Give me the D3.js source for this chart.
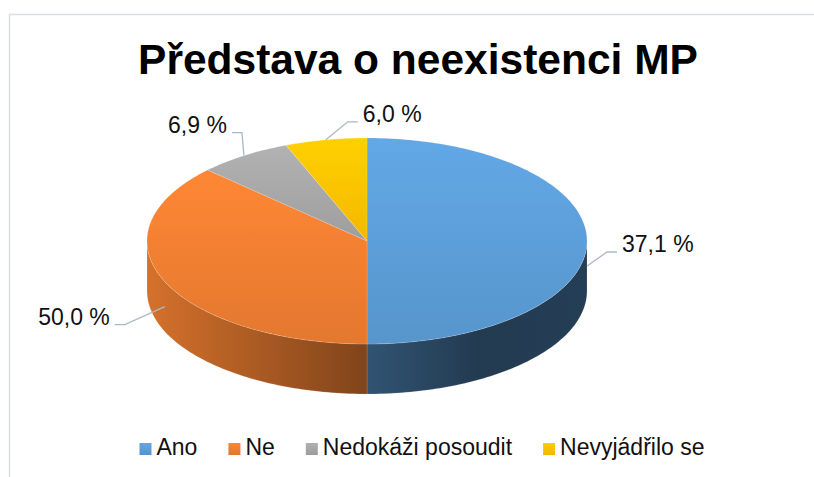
<!DOCTYPE html>
<html>
<head>
<meta charset="utf-8">
<script src="https://cdn.jsdelivr.net/npm/d3@7"></script>
<style>
  body { margin: 0; background: #fff; }
  svg { display: block; font-family: "Liberation Sans", Arial, sans-serif; }
</style>
</head>
<body>
<svg id="chart" width="814" height="477"></svg>
<script>
// data (slice sizes and the label texts printed on them)
const categories = ['Ano', 'Ne', 'Nedokáži posoudit', 'Nevyjádřilo se']
const sliceValues = [50.0, 37.1, 6.9, 6.0]
const labelTexts = ['37,1 %', '50,0 %', '6,9 %', '6,0 %']
const colors = ['#5b9bd5', '#ed7d31', '#a5a5a5', '#ffc000']

const svg = d3.select('#chart')
const defs = svg.append('defs')

// pie geometry (tilted ellipse + wall depth)
const cx = 367, cy = 241, rx = 220, ry = 103, depth = 50

// leader elbow offsets from the slice anchor, per slice
const leaderOffsets = [[20, -14], [-40, 18], [-2, -23], [22, -18]]

// frame
svg.append('path')
  .attr('d', 'M9.5,477V14.5H814')
  .attr('fill', 'none')
  .attr('stroke', '#dadee4')
  .attr('stroke-width', 1.5)

svg.append('text')
  .attr('x', 418)
  .attr('y', 74)
  .attr('text-anchor', 'middle')
  .style('font-size', '42.5px')
  .style('font-weight', 'bold')
  .style('fill', '#000')
  .text('Představa o neexistenci MP')

const pie = d3.pie().sort(null).value(d => d)
const arcs = pie(sliceValues)

function pt(a, dy) {
  return [cx + rx * Math.sin(a), cy - ry * Math.cos(a) + (dy || 0)]
}

function arcPoints(a0, a1, dy) {
  const n = Math.max(2, Math.ceil(Math.abs(a1 - a0) / 0.02))
  return d3.range(n + 1).map(i => pt(a0 + (a1 - a0) * i / n, dy))
}

const line = d3.line()

// gradients
colors.forEach(function(c, i) {
  const top = defs.append('linearGradient')
    .attr('id', 'top' + i)
    .attr('x1', 0).attr('y1', 0).attr('x2', 0).attr('y2', 1)
  top.append('stop').attr('offset', 0).attr('stop-color', d3.color(c).brighter(0.22))
  top.append('stop').attr('offset', 1).attr('stop-color', d3.color(c).darker(0.12))

  const side = defs.append('linearGradient')
    .attr('id', 'side' + i)
    .attr('gradientUnits', 'userSpaceOnUse')
    .attr('x1', cx - rx).attr('y1', 0).attr('x2', cx + rx).attr('y2', 0)
  const base = d3.rgb(c)
  const shade = k => d3.rgb(base.r * k, base.g * k, base.b * k)
  side.append('stop').attr('offset', 0).attr('stop-color', shade(0.9))
  side.append('stop').attr('offset', 0.5).attr('stop-color', shade(0.54))
  side.append('stop').attr('offset', 0.75).attr('stop-color', shade(0.38))
  side.append('stop').attr('offset', 1).attr('stop-color', shade(0.4))

  const leg = defs.append('linearGradient')
    .attr('id', 'leg' + i)
    .attr('x1', 0).attr('y1', 0).attr('x2', 0).attr('y2', 1)
  leg.append('stop').attr('offset', 0).attr('stop-color', d3.color(c).brighter(0.2))
  leg.append('stop').attr('offset', 1).attr('stop-color', d3.color(c).darker(0.15))
})

const pieG = svg.append('g')

// front walls (visible half: 90deg .. 270deg)
arcs.forEach(function(d, i) {
  const s = Math.max(d.startAngle, Math.PI / 2)
  const e = Math.min(d.endAngle, Math.PI * 1.5)
  if (s >= e) return
  const pts = arcPoints(s, e, 0).concat(arcPoints(e, s, depth))
  pieG.append('path')
    .attr('d', line(pts) + 'Z')
    .attr('fill', 'url(#side' + i + ')')
    .attr('stroke', 'rgba(255,255,255,0.25)')
    .attr('stroke-width', 0.6)
})

// top faces
arcs.forEach(function(d, i) {
  const pts = [[cx, cy]].concat(arcPoints(d.startAngle, d.endAngle, 0))
  pieG.append('path')
    .attr('d', line(pts) + 'Z')
    .attr('fill', 'url(#top' + i + ')')
    .attr('stroke', 'rgba(255,255,255,0.25)')
    .attr('stroke-width', 0.6)
})

// data labels with leader lines
const labelG = svg.append('g')
arcs.forEach(function(d, i) {
  const mid = (d.startAngle + d.endAngle) / 2
  const front = -Math.cos(mid) > 0 ? depth * 0.5 : 0
  const anchor = pt(mid, front)
  const off = leaderOffsets[i]
  const elbow = [anchor[0] + off[0], anchor[1] + off[1]]
  const dir = off[0] >= 0 ? 1 : -1
  const end = [elbow[0] + dir * 10, elbow[1]]

  labelG.append('path')
    .attr('d', line([anchor, elbow, end]))
    .attr('fill', 'none')
    .attr('stroke', '#a9b8ca')
    .attr('stroke-width', 1.3)

  labelG.append('text')
    .attr('x', end[0] + dir * 5)
    .attr('y', end[1])
    .attr('text-anchor', dir > 0 ? 'start' : 'end')
    .style('font-size', '23px')
    .style('fill', '#111')
    .text(labelTexts[i])
})

// legend
const legend = svg.append('g')
const items = legend.selectAll('g')
  .data(categories)
  .join('g')

items.append('rect')
  .attr('y', 443)
  .attr('width', 12)
  .attr('height', 12)
  .attr('fill', (d, i) => 'url(#leg' + i + ')')

items.append('text')
  .attr('x', 17)
  .attr('y', 455)
  .style('font-size', '23px')
  .style('fill', '#111')
  .text(d => d)

const widths = []
items.each(function() {
  widths.push(17 + this.querySelector('text').getComputedTextLength())
})
const gap = 31
const total = d3.sum(widths) + gap * (widths.length - 1)
let x = 422 - total / 2
items.each(function(d, i) {
  d3.select(this).attr('transform', 'translate(' + x + ',0)')
  x += widths[i] + gap
})
</script>
</body>
</html>
